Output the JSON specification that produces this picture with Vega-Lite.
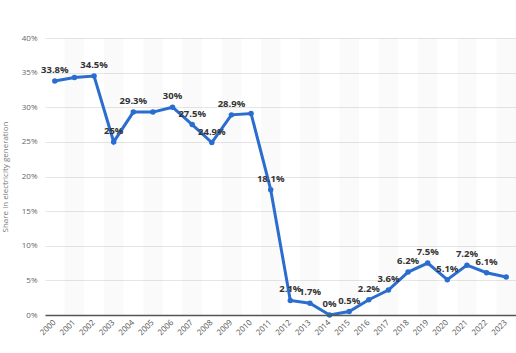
{
  "$schema": "https://vega.github.io/schema/vega-lite/v6.json",
  "width": 471,
  "height": 277,
  "autosize": {"type": "none"},
  "padding": {"left": 45, "top": 38, "right": 0, "bottom": 38},
  "background": "white",
  "config": {"view": {"stroke": null}, "font": "Open Sans"},
  "data": {"values": [
    {"year": "2000", "share": 33.8, "label": "33.8%"},
    {"year": "2001", "share": 34.3, "label": ""},
    {"year": "2002", "share": 34.5, "label": "34.5%"},
    {"year": "2003", "share": 25.0, "label": "25%"},
    {"year": "2004", "share": 29.3, "label": "29.3%"},
    {"year": "2005", "share": 29.3, "label": ""},
    {"year": "2006", "share": 30.0, "label": "30%"},
    {"year": "2007", "share": 27.5, "label": "27.5%"},
    {"year": "2008", "share": 24.9, "label": "24.9%"},
    {"year": "2009", "share": 28.9, "label": "28.9%"},
    {"year": "2010", "share": 29.1, "label": ""},
    {"year": "2011", "share": 18.1, "label": "18.1%"},
    {"year": "2012", "share": 2.1, "label": "2.1%"},
    {"year": "2013", "share": 1.7, "label": "1.7%"},
    {"year": "2014", "share": 0.0, "label": "0%"},
    {"year": "2015", "share": 0.5, "label": "0.5%"},
    {"year": "2016", "share": 2.2, "label": "2.2%"},
    {"year": "2017", "share": 3.6, "label": "3.6%"},
    {"year": "2018", "share": 6.2, "label": "6.2%"},
    {"year": "2019", "share": 7.5, "label": "7.5%"},
    {"year": "2020", "share": 5.1, "label": "5.1%"},
    {"year": "2021", "share": 7.2, "label": "7.2%"},
    {"year": "2022", "share": 6.1, "label": "6.1%"},
    {"year": "2023", "share": 5.5, "label": ""}
  ]},
  "encoding": {
    "x": {
      "field": "year", "type": "ordinal",
      "scale": {"paddingInner": 0, "paddingOuter": 0},
      "axis": {
        "title": null, "labelAngle": -45, "labelAlign": "right", "labelBaseline": "middle",
        "labelFontSize": 8, "labelColor": "#555", "ticks": false,
        "domain": true, "domainColor": "#555", "domainWidth": 1.5,
        "labelPadding": 6, "grid": false
      }
    },
    "y": {
      "field": "share", "type": "quantitative",
      "scale": {"domain": [0, 40], "nice": false},
      "axis": {
        "title": "Share in electricity generation", "titleFontSize": 8, "titleFontWeight": "normal",
        "titleColor": "#777", "titlePadding": 12,
        "values": [0, 5, 10, 15, 20, 25, 30, 35, 40], "labelOverlap": false,
        "labelExpr": "datum.value + '%'", "labelFontSize": 8, "labelColor": "#666",
        "domain": false, "ticks": false, "labelPadding": 8,
        "gridColor": "#e6e6e6", "gridWidth": 1
      }
    }
  },
  "layer": [
    {
      "transform": [{"filter": "toNumber(datum.year) % 2 == 1"}],
      "mark": {"type": "rect", "fill": "#000000", "fillOpacity": 0.018},
      "encoding": {"y": null}
    },
    {
      "mark": {"type": "line", "color": "#2a6dcf", "strokeWidth": 3, "point": {"filled": true, "size": 30, "color": "#2a6dcf"}}
    },
    {
      "mark": {"type": "text", "dy": -11, "fontSize": 9.5, "fontWeight": "bold", "color": "#333"},
      "encoding": {
        "text": {"field": "label"}
      }
    }
  ]
}
